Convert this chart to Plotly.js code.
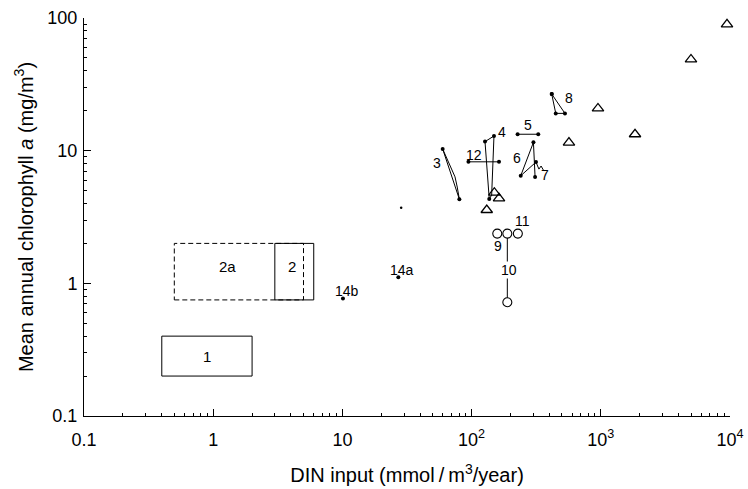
<!DOCTYPE html>
<html>
<head>
<meta charset="utf-8">
<script src="https://cdn.plot.ly/plotly-3.0.1.min.js"></script>
<style>html,body{margin:0;padding:0;background:#fff;}#chart{width:748px;height:489px;}</style>
</head>
<body>
<div id="chart"></div>
<script>
// ---- data (DIN input mmol/m3/yr vs mean annual chlorophyll a mg/m3) ----
const triX = [131, 150, 163, 567, 951, 1840, 4990, 9480];
const triY = [3.57, 4.82, 4.37, 11.5, 20.8, 13.3, 48.7, 89.5];

const g3X = [59.7, 74.4, 77.4, 80.4, 59.7];
const g3Y = [10.3, 6.35, 5.32, 4.3, 10.3];
const g3DotX = [59.7, 80.4];
const g3DotY = [10.3, 4.3];

const g4X = [127, 149, 143, 137, 127];
const g4Y = [11.7, 12.9, 4.63, 4.32, 11.7];
const g4DotX = [127, 149, 137];
const g4DotY = [11.7, 12.9, 4.32];

const g12X = [94.5, 163];
const g12Y = [8.24, 8.24];

const g5X = [227, 328];
const g5Y = [13.3, 13.3];

const g8X = [417, 448, 528, 417];
const g8Y = [26.7, 19.1, 19.1, 26.7];

const g6X = [240, 301, 310, null, 240, 315];
const g6Y = [6.47, 11.55, 6.32, null, 6.47, 8.2];
const g6DotX = [240, 301, 310, 315];
const g6DotY = [6.47, 11.55, 6.32, 8.2];

const g7X = [315, 332, 345, 363];
const g7Y = [8.2, 7.26, 7.66, 7.02];

const circX = [158, 189, 228, 189];
const circY = [2.37, 2.37, 2.37, 0.72];
const g10X = [189, 189];
const g10Y = [2.37, 0.72];

const ptX = [27.1, 10.1];
const ptY = [1.11, 0.77];
const speckX = [28.5];
const speckY = [3.72];

const box1X = [0.4, 2, 2, 0.4, 0.4];
const box1Y = [0.2, 0.2, 0.4, 0.4, 0.2];
const box2X = [3, 6, 6, 3, 3];
const box2Y = [0.75, 0.75, 2, 2, 0.75];
const box2aX = [0.5, 5, 5, 0.5, 0.5];
const box2aY = [0.75, 0.75, 2, 2, 0.75];

const labelText = ["1", "2a", "2", "14b", "14a", "3", "12", "4", "5", "6", "7", "8", "9", "10", "11"];
const labelX = [0.9, 1.29, 4.05, 10.85, 28.8, 54, 104, 172, 273, 226, 370, 564, 161, 195, 247];
const labelY = [0.28, 1.35, 1.35, 0.875, 1.26, 8.07, 9.27, 13.8, 15.6, 8.75, 6.55, 24.8, 1.91, 1.26, 2.96];
const labelSize = [15, 15, 15, 14, 14, 14, 14, 14, 14, 14, 14, 14, 14, 14, 14];

const xTickVals = [0.1, 1, 10, 100, 1000, 10000];
const xTickText = ["0.1", "1", "10", "10<sup>2</sup>", "10<sup>3</sup>", "10<sup>4</sup>"];
const yTickVals = [0.1, 1, 10, 100];
const yTickText = ["0.1", "1", "10", "100"];

// ---- build ----
function minorVals(lo, hi) {
  const out = [];
  for (let e = lo; e < hi; e++) for (let d = 2; d <= 9; d++) out.push(d * Math.pow(10, e));
  return out;
}
const black = "#000";
const lineT = (x, y, extra) => Object.assign({type: "scatter", mode: "lines", x, y,
  line: {color: black, width: 1}, hoverinfo: "skip", showlegend: false}, extra || {});
const dotT = (x, y, size) => ({type: "scatter", mode: "markers", x, y,
  marker: {color: black, size: size || 4}, showlegend: false, hoverinfo: "skip"});

const traces = [
  lineT(box1X, box1Y),
  lineT(box2aX, box2aY, {line: {color: black, width: 1, dash: "5px,3px"}}),
  lineT(box2X, box2Y),
  lineT(g3X, g3Y), dotT(g3DotX, g3DotY),
  lineT(g4X, g4Y), dotT(g4DotX, g4DotY),
  lineT(g12X, g12Y), dotT(g12X, g12Y),
  lineT(g5X, g5Y), dotT(g5X, g5Y),
  lineT(g8X, g8Y), dotT(g8X, g8Y),
  lineT(g6X, g6Y, {connectgaps: false}), dotT(g6DotX, g6DotY),
  lineT(g7X, g7Y),
  lineT(g10X, g10Y),
  {type: "scatter", mode: "markers", x: circX, y: circY, showlegend: false, hoverinfo: "skip",
   marker: {symbol: "circle", size: 9, color: "#fff", line: {color: black, width: 1.1}}},
  dotT(ptX, ptY),
  dotT(speckX, speckY, 2.5),
  {type: "scatter", mode: "markers", x: triX, y: triY, showlegend: false, hoverinfo: "skip", cliponaxis: false,
   marker: {symbol: "triangle-up-open", size: 10, color: black, line: {color: black, width: 1.3}}}
];

const annotations = labelText.map((t, i) => ({
  text: t, x: Math.log10(labelX[i]), y: Math.log10(labelY[i]), xref: "x", yref: "y",
  showarrow: false, font: {size: labelSize[i], color: black, family: "Liberation Sans, Arial, sans-serif"},
  bgcolor: t === "10" ? "#fff" : "rgba(0,0,0,0)", borderpad: 0
}));

const axisCommon = {
  type: "log", showgrid: false, zeroline: false, showline: true, linecolor: black, linewidth: 1,
  ticks: "inside", ticklen: 7, tickwidth: 1, tickcolor: black, tickmode: "array",
  tickfont: {size: 18, color: black, family: "Liberation Sans, Arial, sans-serif"}
};

const layout = {
  width: 748, height: 489,
  margin: {l: 84, r: 18, t: 18, b: 73},
  paper_bgcolor: "#fff", plot_bgcolor: "#fff",
  font: {family: "Liberation Sans, Arial, sans-serif", color: black},
  showlegend: false,
  xaxis: Object.assign({}, axisCommon, {
    range: [-1, 4], tickvals: xTickVals, ticktext: xTickText, ticklabelstandoff: 7,
    minor: {tickmode: "array", tickvals: minorVals(-1, 4), ticks: "inside", ticklen: 3, tickcolor: black, tickwidth: 1},
    title: {text: "DIN input (mmol\u2009/\u2009m<sup>3</sup>/year)", font: {size: 20, color: black}, standoff: 19}
  }),
  yaxis: Object.assign({}, axisCommon, {
    range: [-1, 2], tickvals: yTickVals, ticktext: yTickText, ticklabelstandoff: 2,
    minor: {tickmode: "array", tickvals: minorVals(-1, 2), ticks: "inside", ticklen: 3, tickcolor: black, tickwidth: 1},
    title: {text: "Mean annual chlorophyll <i>a</i> (mg/m<sup>3</sup>)", font: {size: 20, color: black}, standoff: 8}
  }),
  annotations
};

Plotly.newPlot("chart", traces, layout, {staticPlot: true, displayModeBar: false});
</script>
</body>
</html>
